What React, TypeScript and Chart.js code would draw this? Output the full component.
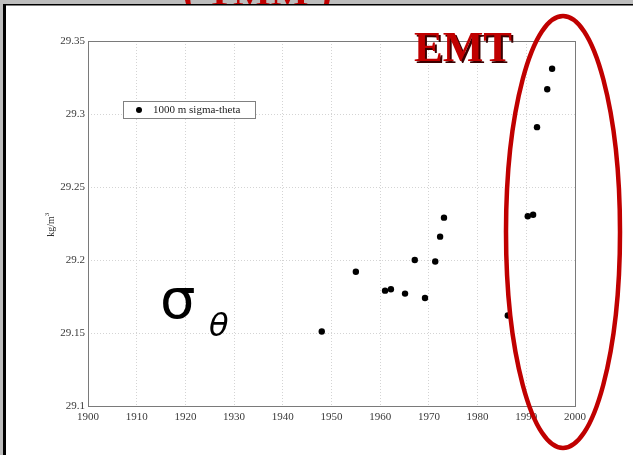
import React, { useEffect, useRef } from "react";
import { Chart, registerables } from "chart.js";

Chart.register(...registerables);

const years = [1948, 1955, 1961, 1962.2, 1965.1, 1967.1, 1969.2, 1971.3, 1972.3, 1973.1, 1986.2, 1990.3, 1991.4, 1992.2, 1994.3, 1995.3];
const sigmaTheta = [29.151, 29.192, 29.179, 29.180, 29.177, 29.200, 29.174, 29.199, 29.216, 29.229, 29.162, 29.230, 29.231, 29.291, 29.317, 29.331];
const xTicks = [1900, 1910, 1920, 1930, 1940, 1950, 1960, 1970, 1980, 1990, 2000];
const yTicks = [29.1, 29.15, 29.2, 29.25, 29.3, 29.35];
const seriesLabel = "1000 m sigma-theta";
const yTitle = "kg/m";
const annotationText = "EMT";

const SERIF = "'Liberation Serif', 'Times New Roman', serif";

const decorPlugin = {
  id: "decor",
  beforeDraw(chart: any) {
    const ctx = chart.ctx;
    const W = chart.width, H = chart.height;
    ctx.save();
    ctx.fillStyle = "#bdbdbd";
    ctx.fillRect(0, 0, W, H);
    ctx.fillStyle = "#ffffff";
    ctx.fillRect(6, 5, W - 6, H - 5);
    ctx.fillStyle = "#000000";
    ctx.fillRect(3, 4, 3, H - 4);
    ctx.fillRect(3, 4, W - 3, 1.5);
    // clipped slide title remnant
    ctx.beginPath();
    ctx.rect(0, 0, W, 4);
    ctx.clip();
    ctx.fillStyle = "#c00000";
    ctx.font = `bold 40px ${SERIF}`;
    ctx.textBaseline = "alphabetic";
    ctx.fillText("( TMM )", 183, 5);
    ctx.restore();
  },
  afterDraw(chart: any) {
    const ctx = chart.ctx;
    const a = chart.chartArea;
    ctx.save();
    // axes box
    ctx.strokeStyle = "#7a7a7a";
    ctx.lineWidth = 1;
    ctx.strokeRect(Math.round(a.left) + 0.5, Math.round(a.top) + 0.5, Math.round(a.right - a.left), Math.round(a.bottom - a.top));
    // y title
    ctx.save();
    ctx.translate(51, (a.top + a.bottom) / 2);
    ctx.rotate(-Math.PI / 2);
    ctx.fillStyle = "#333";
    ctx.font = `10px ${SERIF}`;
    ctx.textBaseline = "middle";
    const tw = ctx.measureText(yTitle).width;
    ctx.fillText(yTitle, -tw / 2 - 3, 0);
    ctx.font = `7px ${SERIF}`;
    ctx.fillText("3", tw / 2 - 3, -4);
    ctx.restore();
    // legend
    const label = chart.data.datasets[0].label;
    ctx.fillStyle = "#fff";
    ctx.fillRect(123.5, 101.5, 132, 17);
    ctx.strokeStyle = "#808080";
    ctx.strokeRect(123.5, 101.5, 132, 17);
    ctx.fillStyle = "#000";
    ctx.beginPath();
    ctx.arc(139, 110, 3, 0, Math.PI * 2);
    ctx.fill();
    ctx.fillStyle = "#222";
    ctx.font = `11px ${SERIF}`;
    ctx.textBaseline = "middle";
    ctx.fillText(label, 153, 110.5);
    // EMT
    ctx.font = `bold 43px ${SERIF}`;
    ctx.textBaseline = "alphabetic";
    ctx.fillStyle = "#3a0000";
    ctx.fillText(annotationText, 416, 63);
    ctx.fillStyle = "#c00000";
    ctx.fillText(annotationText, 414, 61);
    // ellipse
    ctx.strokeStyle = "#c00000";
    ctx.lineWidth = 4.5;
    ctx.beginPath();
    ctx.ellipse(563, 232, 57, 216, 0, 0, Math.PI * 2);
    ctx.stroke();
    // sigma theta
    ctx.fillStyle = "#000";
    ctx.font = `56px 'DejaVu Sans', sans-serif`;
    ctx.fillText("σ", 160, 318);
    ctx.font = `italic 32px 'DejaVu Sans', sans-serif`;
    ctx.fillText("θ", 209, 336);
    ctx.restore();
  },
};

export default function App() {
  const ref = useRef<HTMLCanvasElement>(null);
  useEffect(() => {
    document.body.style.margin = "0";
    const chart = new Chart(ref.current!, {
      type: "scatter",
      data: {
        datasets: [
          {
            label: seriesLabel,
            data: years.map((y, i) => ({ x: y, y: sigmaTheta[i] })),
            backgroundColor: "#000",
            borderColor: "#000",
            pointRadius: 3.2,
            pointBorderWidth: 0,
          },
        ],
      },
      options: {
        animation: false,
        responsive: false,
        layout: { padding: { left: 38, top: 41, right: 58, bottom: 0 } },
        plugins: { legend: { display: false }, tooltip: { enabled: false } },
        scales: {
          x: {
            type: "linear",
            min: 1900,
            max: 2000,
            afterBuildTicks: (s: any) => { s.ticks = xTicks.map((v) => ({ value: v })); },
            afterFit: (s: any) => { s.height = 49; },
            ticks: { color: "#3a3a3a", font: { family: SERIF, size: 11 }, padding: 5, maxRotation: 0, callback: (v: any) => String(v) },
            grid: { color: "#d4d4d4", drawTicks: false },
            border: { display: false, dash: [1, 2] },
          },
          y: {
            type: "linear",
            min: 29.1,
            max: 29.35,
            afterBuildTicks: (s: any) => { s.ticks = yTicks.map((v) => ({ value: v })); },
            afterFit: (s: any) => { s.width = 50; },
            ticks: { color: "#3a3a3a", font: { family: SERIF, size: 11 }, padding: 3, callback: (v: any) => String(Number(Number(v).toFixed(2))) },
            grid: { color: "#d4d4d4", drawTicks: false },
            border: { display: false, dash: [1, 2] },
          },
        },
      },
      plugins: [decorPlugin],
    });
    return () => chart.destroy();
  }, []);
  return (
    <div style={{ position: "relative", width: 633, height: 455 }}>
      <canvas ref={ref} width={633} height={455} style={{ display: "block" }} />
    </div>
  );
}
